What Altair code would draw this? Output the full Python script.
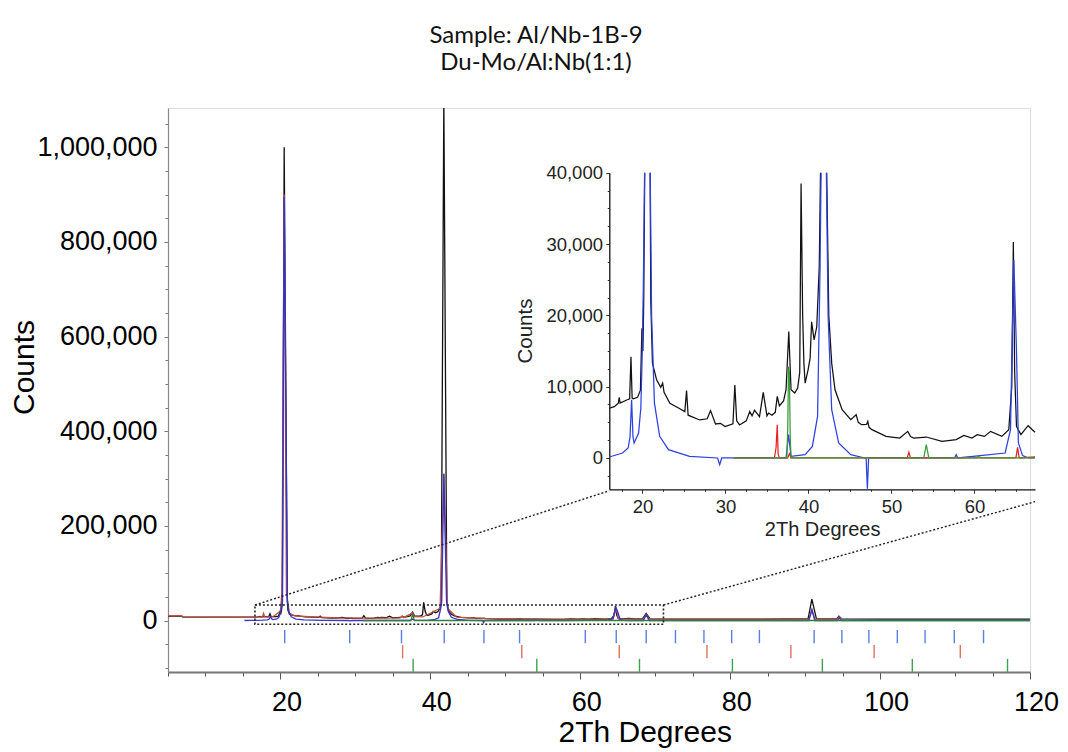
import altair as alt
import pandas as pd

# ---------------- data ----------------
# observed pattern (black)
obs_x = [5.0, 6.8, 7.0, 12.0, 15.5, 16.0, 16.6, 17.08, 17.2, 17.3, 18.1, 18.45, 18.61, 18.75,
         18.9, 19.4, 19.75, 19.93, 20.05, 20.15, 20.27, 20.5, 20.92, 21.0, 21.2, 21.7, 22.2,
         22.43, 22.6, 23.3, 24.4, 25.1, 25.31, 25.5, 26.9, 27.8, 28.2, 28.8, 29.4, 29.95, 30.9,
         31.13, 31.35, 31.7, 32.5, 32.93, 33.2, 33.5, 34.1, 34.55, 35.0, 35.2, 35.6, 36.0, 36.24,
         36.5, 37.0, 37.3, 37.63, 37.9, 38.35, 38.7, 38.95, 39.11, 39.3, 39.45, 39.6, 39.96, 40.2,
         40.38, 40.68, 41.0, 41.3, 41.45, 41.8, 42.2, 42.45, 42.8, 43.2, 44.06, 45.1, 45.75, 46.0,
         46.4, 47.0, 47.15, 47.3, 47.65, 49.35, 51.0, 51.97, 52.3, 52.7, 54.2, 56.1, 57.8, 58.73,
         59.7, 60.34, 61.2, 61.95, 63.3, 64.14, 64.5, 64.69, 64.85, 65.07, 65.6, 66.47, 67.3,
         68.3, 68.8, 69.3, 75.0, 84.0, 90.4, 90.9, 91.5, 94.2, 94.5, 94.9, 100.0, 110.0, 120.0]
obs_y = [9500, 9500, 7200, 7000, 6900, 6970, 7200, 7670, 8500, 7700, 8130, 8300, 14200, 8400,
         8300, 8500, 9500, 18200, 15000, 22000, 40000, 1000000, 40000, 22000, 13300, 10950, 9900,
         10480, 9200, 7670, 6970, 6500, 9440, 6000, 5330, 5500, 6640, 4770, 4860, 4400, 4800,
         10240, 5200, 4630, 5200, 6500, 5900, 6700, 5800, 9200, 5900, 6300, 6000, 6400, 8630,
         7300, 8000, 9570, 17730, 9570, 9100, 9800, 12000, 38500, 20000, 13300, 10500, 12400, 14000,
         19100, 16570, 18400, 26800, 40000, 1100000, 40000, 20000, 13300, 9570, 6770, 5370, 6070, 5000,
         4670, 4700, 5130, 4300, 3970, 3030, 2800, 3730, 3000, 2800, 2940, 2330, 2570, 3170,
         2800, 3270, 3030, 3730, 3030, 3970, 10000, 30300, 12000, 4430, 3270, 4530, 3600,
         3400, 15000, 3300, 3000, 3000, 4000, 45000, 4000, 3500, 9000, 3300, 3000, 2800, 2800]

# calculated total (red, main view)
calc_x = [5.0, 6.8, 7.0, 15.5, 17.6, 17.75, 17.9, 19.0, 20.0, 20.2, 20.5, 20.8, 21.2, 22.0, 24.5,
          27.5, 30.0, 33.0, 36.0, 36.24, 36.4, 37.63, 37.9, 39.0, 41.3, 41.8, 42.3, 43.5, 47.0,
          52.0, 60.0, 64.4, 64.75, 65.1, 68.4, 68.8, 69.2, 84.0, 90.5, 90.9, 91.3, 94.2, 94.55,
          94.9]
calc_y = [10500, 10500, 7000, 6800, 7500, 15000, 7500, 8000, 20000, 60000, 900000, 60000, 15000,
          9500, 7500, 5500, 5000, 5200, 5500, 10000, 6000, 16000, 8000, 7500, 26000, 310000, 26000,
          7000, 4500, 3500, 2500, 3500, 28000, 3500, 3000, 13000, 3000, 2800, 2800, 24000, 2800,
          2800, 8000, 2800]

# phase 1 (blue)
blue_x = [15.2, 16.0, 17.6, 18.27, 18.5, 18.69, 18.85, 18.99, 19.53, 19.8, 19.96, 20.1, 20.25,
          20.5, 20.93, 21.1, 21.44, 22.07, 23.13, 25.67, 29.05, 29.3, 29.55, 37.3, 37.6, 37.9,
          39.6, 40.47, 41.1, 41.4, 41.52, 41.8, 42.16, 42.37, 42.8, 43.64, 45.1, 46.8, 46.95,
          47.1, 47.25, 57.6, 57.8, 58.0, 63.7, 64.35, 64.56, 64.75, 65.07, 65.3, 65.8, 66.5,
          67.3, 68.4, 68.8, 69.2, 90.5, 90.9, 91.3, 94.3, 94.55, 94.8, 120.0]
blue_y = [0, 140, 700, 1400, 3000, 8170, 3000, 2100, 3500, 7000, 14230, 24000, 40000,
          895000, 40000, 19800, 7700, 3030, 1170, 230, 0, -930, 0, 0, 3270, 230,
          470, 1630, 5830, 26800, 40000, 310000, 40000, 19800, 6770, 2100, 470, 0, 0,
          -4300, 0, 0, 470, 0, 700, 3970, 17000, 27800, 15000, 2100, 330, 0,
          0, 0, 12000, 0, 0, 22000, 0, 0, 6000, 0, 0]

# phase 2 (red, inset)
red_x = [31.0, 35.9, 36.1, 36.24, 36.35, 36.5, 37.5, 37.7, 37.9, 51.9, 52.1, 52.3, 65.0, 65.2,
         65.4, 67.3]
red_y = [0, 0, 1500, 4670, 500, 0, 0, 600, 0, 0, 800, 0, 0, 1500, 0, 150]

# phase 3 (green)
green_x = [31.0, 37.4, 37.5, 37.6, 37.7, 37.8, 37.9, 53.9, 54.2, 54.5, 60.3, 60.5, 60.7, 67.3,
           120.0]
green_y = [0, 0, 4000, 12800, 12000, 3000, 0, 0, 1870, 0, 0, 250, 0, 0, 0]

# reflection markers (2Th positions)
blue_ticks = [20.57, 29.24, 36.15, 41.85, 47.15, 51.9, 60.67, 64.8, 68.8, 72.7, 76.5, 80.2,
              83.9, 91.2, 94.9, 98.5, 102.3, 106.0, 109.9, 113.8]
red_ticks = [36.3, 52.2, 65.2, 76.9, 88.1, 99.2, 110.7]
green_ticks = [37.7, 54.2, 67.9, 80.3, 92.3, 104.3, 117.0]
tick_rows = ["blue", "red", "green"]
row_top = [-20000, -52000, -81000]
row_bottom = [-48000, -80000, -108800]

# zoomed region shown in the inset
zoom_x = [16.6, 71.1]
zoom_y = [-8000, 32700]

title_lines = ["Sample: Al/Nb-1B-9", "Du-Mo/Al:Nb(1:1)"]

# ---------------- layout ----------------
W, H = 862, 564
PAD = {"left": 168, "top": 108, "right": 38, "bottom": 80}
MAIN_X = [5, 120]
MAIN_Y = [-108800, 1083000]
INSET_X = [16, 67.3]
INSET_Y = [-4390, 40000]
INSET_LEFT, INSET_RIGHT = 441.3, 867.0
INSET_TOP, INSET_BOTTOM = 64.7, 381.3
CLIP_TOP = 40000
AXF = "Liberation Sans"


def frame(xs, ys):
    return pd.DataFrame({"x": xs, "y": ys})


obs = frame(obs_x, obs_y)
calc = frame(calc_x, calc_y)
blue = frame(blue_x, blue_y)
red = frame(red_x, red_y)
green = frame(green_x, green_y)

ticks_rows = []
for row, xs, t, b in zip(tick_rows, [blue_ticks, red_ticks, green_ticks], row_top, row_bottom):
    for v in xs:
        ticks_rows.append({"x": v, "y": t, "y2": b, "row": row})
ticks = pd.DataFrame(ticks_rows)

box = pd.DataFrame({"x": [zoom_x[0]], "x2": [zoom_x[1]], "y": [zoom_y[1]], "y2": [zoom_y[0]]})
corner_left = pd.DataFrame({"x": [zoom_x[0]], "y": [zoom_y[1]]})
corner_right = pd.DataFrame({"x": [zoom_x[1]], "y": [zoom_y[1]]})

# ---------------- main view ----------------
main_x_axis = alt.Axis(
    title="2Th Degrees", values=list(range(5, 121, 5)),
    labelExpr="datum.value % 20 === 0 ? '' + datum.value : ''",
    tickSize={"condition": {"test": "datum.value % 20 === 0", "value": 7}, "value": 4},
    labelFont=AXF, labelFontSize=27, labelColor="#000", labelPadding=10, labelOffset=6,
    labelOverlap=False, labelFlush=False, labelBound=False,
    domainColor="#777", domainWidth=2, tickColor="#555", tickWidth=1, grid=False,
    titleFont=AXF, titleFontSize=30, titleFontWeight="normal", titleColor="#000",
    titleX=476.7, titleY=69.5, titleBaseline="alphabetic", titleAlign="center",
)
main_y_axis = alt.Axis(
    title="Counts", values=list(range(-100000, 1050001, 50000)),
    labelExpr="datum.value >= 0 && datum.value % 200000 === 0 ? format(datum.value, ',') : ''",
    tickSize={"condition": {"test": "datum.value % 200000 === 0", "value": 4}, "value": 3},
    labelFont=AXF, labelFontSize=27, labelColor="#000", labelPadding=7,
    labelOverlap=False, labelFlush=False, labelBound=False,
    domainColor="#888", domainWidth=1.2, tickColor="#777", grid=False,
    titleFont=AXF, titleFontSize=30, titleFontWeight="normal", titleColor="#000",
    titleX=-134.7, titleY=259, titleAngle=-90, titleBaseline="alphabetic", titleAlign="center",
)
xm = alt.X("x:Q", scale=alt.Scale(domain=MAIN_X, nice=False, zero=False), axis=main_x_axis)
ym = alt.Y("y:Q", scale=alt.Scale(domain=MAIN_Y, nice=False, zero=False), axis=main_y_axis)


def main_line(d, color, w=1.3):
    return alt.Chart(d).mark_line(color=color, strokeWidth=w, clip=True).encode(x=xm, y=ym)


tick_layer = alt.Chart(ticks).mark_rule(strokeWidth=1.4).encode(
    x=xm, y=ym, y2="y2:Q",
    color=alt.Color("row:N", legend=None,
                    scale=alt.Scale(domain=tick_rows, range=["#5a7fe2", "#e2705f", "#3ea14d"])),
)
box_layer = alt.Chart(box).mark_rect(fillOpacity=0, stroke="#222", strokeWidth=1.6,
                                     strokeDash=[2, 2]).encode(x=xm, x2="x2:Q", y=ym, y2="y2:Q")
conn_left = alt.Chart(corner_left).mark_rule(color="#222", strokeWidth=1.4, strokeDash=[2, 2]).encode(
    x=xm, y=ym, x2=alt.value(INSET_LEFT), y2=alt.value(INSET_BOTTOM + 1.5))
conn_right = alt.Chart(corner_right).mark_rule(color="#222", strokeWidth=1.4, strokeDash=[2, 2]).encode(
    x=xm, y=ym, x2=alt.value(INSET_RIGHT), y2=alt.value(INSET_BOTTOM + 12.4))

main = alt.layer(
    main_line(obs, "#111111"),
    main_line(calc, "#c2503c"),
    main_line(blue, "#3434cc"),
    main_line(green, "#2f7f3a"),
    tick_layer,
    box_layer,
    conn_left,
    conn_right,
)

# ---------------- inset view ----------------
inset_x_axis = alt.Axis(
    title="2Th Degrees", orient="bottom", offset=-(H - INSET_BOTTOM),
    values=[17.5 + 2.5 * i for i in range(20)],
    labelExpr="datum.value % 10 === 0 ? '' + datum.value : ''",
    tickSize={"condition": {"test": "datum.value % 10 === 0", "value": 4}, "value": 2},
    labelFont=AXF, labelFontSize=18.5, labelColor="#222", labelPadding=4.5,
    labelOverlap=False, labelFlush=False, labelBound=False,
    domainColor="#111", domainWidth=1.3, tickColor="#333", grid=False,
    titleFont=AXF, titleFontSize=20, titleFontWeight="normal", titleColor="#222",
    titleX=(INSET_LEFT + INSET_RIGHT) / 2, titleY=45.7, titleBaseline="alphabetic",
    titleAlign="center",
)
inset_y_axis = alt.Axis(
    title="Counts", orient="left", offset=-INSET_LEFT,
    values=[-2500 + 2500 * i for i in range(18)],
    labelExpr="datum.value >= 0 && datum.value % 10000 === 0 ? format(datum.value, ',') : ''",
    tickSize={"condition": {"test": "datum.value % 10000 === 0", "value": 3.5}, "value": 2},
    labelFont=AXF, labelFontSize=18.5, labelColor="#222", labelPadding=3.3,
    labelOverlap=False, labelFlush=False, labelBound=False,
    domainColor="#111", domainWidth=1.3, tickColor="#333", grid=False,
    titleFont=AXF, titleFontSize=20.5, titleFontWeight="normal", titleColor="#222",
    titleX=-77.7, titleY=222.5, titleAngle=-90, titleBaseline="alphabetic", titleAlign="center",
)
xi = alt.X("x:Q", axis=inset_x_axis,
           scale=alt.Scale(domain=INSET_X, range=[INSET_LEFT, INSET_RIGHT], nice=False, zero=False))
yi = alt.Y("yi:Q", axis=inset_y_axis,
           scale=alt.Scale(domain=INSET_Y, range=[INSET_BOTTOM, INSET_TOP], nice=False, zero=False))


def inset_line(d, color, w=1.25):
    return (
        alt.Chart(d)
        .transform_filter(f"datum.x >= {INSET_X[0]} && datum.x <= {INSET_X[1]}")
        .transform_calculate(yi=f"datum.y <= {CLIP_TOP} ? datum.y : null")
        .mark_line(color=color, strokeWidth=w, invalid="break-paths-show-domains")
        .encode(x=xi, y=yi)
    )


inset = alt.layer(
    inset_line(obs, "#111111"),
    inset_line(blue, "#2e3fe4"),
    inset_line(red, "#e8231f"),
    inset_line(green, "#3a9a3a"),
)

chart = (
    alt.layer(main, inset)
    .resolve_scale(x="independent", y="independent")
    .resolve_axis(x="independent", y="independent")
    .properties(
        width=W, height=H, padding=PAD,
        autosize=alt.AutoSizeParams(type="none"),
        title=alt.TitleParams(text=title_lines, font="Lato", fontSize=24, fontWeight="normal",
                              color="#111", anchor="middle", dx=-63, dy=2.5, offset=35,
                              lineHeight=27.6),
    )
    .configure_view(stroke=None)
    .configure(background="white")
)

chart.save("out.html", embed_options={"renderer": "svg", "actions": False})
